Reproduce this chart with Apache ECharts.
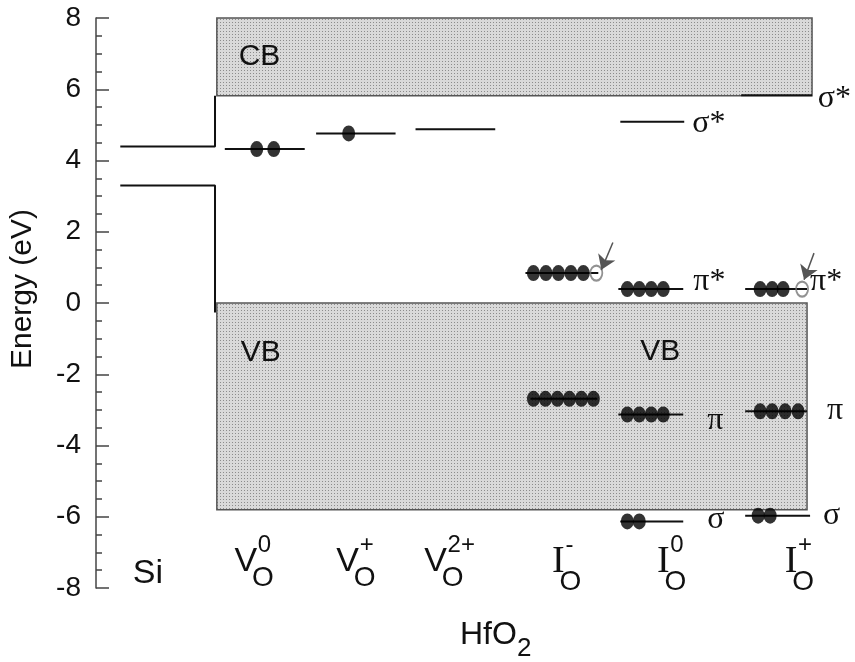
<!DOCTYPE html>
<html>
<head>
<meta charset="utf-8">
<script src="https://cdn.jsdelivr.net/npm/echarts@6/dist/echarts.min.js"></script>
<style>
  html, body { margin: 0; padding: 0; background: #fff; }
  #chart { width: 855px; height: 662px; }
</style>
</head>
<body>
<div id="chart"></div>
<script>
// Energy axis (eV)
const energyMin = -8;
const energyMax = 8;
const energyStep = 2;

// HfO2 bands: horizontal extent and energy range (top, bottom)
const bandNames = ['CB', 'VB'];
const bandLeft = [15.92, 15.92];
const bandRight = [94.34, 93.68];
const bandTop = [8.0, 0.0];
const bandBottom = [5.82, -5.80];

// Si band edges and the offsets to the HfO2 bands
const siCBLine = [[3.2, 4.39], [15.68, 4.39], [15.68, 5.82]];
const siVBLine = [[3.2, 3.30], [15.68, 3.30], [15.68, -0.27]];

// Defect levels: start, end, energy (eV)
const levelStart = [16.97, 29.00, 42.10, 56.58, 57.24, 68.82, 68.82, 69.08, 69.08, 85.53, 85.53, 85.53, 85.00];
const levelEnd   = [27.50, 39.47, 52.60, 66.18, 66.05, 77.37, 77.37, 77.37, 77.50, 93.68, 93.68, 94.08, 94.34];
const levelE     = [4.32, 4.76, 4.88, 0.84, -2.69, 0.39, -3.13, -6.13, 5.09, 0.39, -3.04, -5.97, 5.83];

// Occupied states (electrons)
const electronX = [21.18, 23.42, 33.29,
  57.63, 59.28, 60.92, 62.57, 64.21,
  57.63, 59.21, 60.79, 62.37, 63.95, 65.53,
  70.00, 71.58, 73.16, 74.74,
  70.00, 71.58, 73.16, 74.74,
  70.00, 71.58,
  87.50, 89.08, 90.53,
  87.50, 89.08, 90.79, 92.50,
  87.24, 88.82];
const electronE = [4.32, 4.32, 4.76,
  0.84, 0.84, 0.84, 0.84, 0.84,
  -2.69, -2.69, -2.69, -2.69, -2.69, -2.69,
  0.39, 0.39, 0.39, 0.39,
  -3.13, -3.13, -3.13, -3.13,
  -6.13, -6.13,
  0.39, 0.39, 0.39,
  -3.04, -3.04, -3.04, -3.04,
  -5.97, -5.97];

// Empty states (holes)
const holeX = [65.92, 93.03];
const holeE = [0.84, 0.39];

// Arrows pointing at the holes: from -> to
const arrowFrom = [[68.10, 1.70], [94.60, 1.40]];
const arrowTo = [[66.58, 0.93], [93.29, 0.65]];

// Orbital labels
const orbText = ['σ*', 'σ*', 'π*', 'π*', 'π', 'π', 'σ', 'σ'];
const orbX = [78.55, 95.10, 78.70, 94.08, 80.53, 96.32, 80.53, 95.79];
const orbE = [5.05, 5.74, 0.61, 0.61, -3.29, -3.03, -6.09, -5.98];

// Band labels
const bandLabelText = ['CB', 'VB', 'VB'];
const bandLabelX = [18.80, 19.08, 71.70];
const bandLabelE = [6.90, -1.40, -1.36];

// System labels along the bottom
const catBase = ['Si', 'V', 'V', 'V', 'I', 'I', 'I'];
const catSub = ['', 'O', 'O', 'O', 'O', 'O', 'O'];
const catSup = ['', '0', '+', '2+', '-', '0', '+'];
const catX = [6.84, 19.74, 33.16, 44.74, 60.92, 74.74, 91.58];
const catE = -7.25;

// Stipple fill used for the band areas
function stipplePattern() {
  const c = document.createElement('canvas');
  c.width = 3; c.height = 3;
  const ctx = c.getContext('2d');
  ctx.fillStyle = '#d9d9d9';
  ctx.fillRect(0, 0, 3, 3);
  ctx.fillStyle = '#8c8c8c';
  ctx.fillRect(1, 1, 1, 1);
  return c;
}

const SANS = '"Liberation Sans", Arial, sans-serif';
const SERIF = '"Liberation Serif", "Times New Roman", serif';

const chart = echarts.init(document.getElementById('chart'), null, { renderer: 'canvas' });

const option = {
  animation: false,
  backgroundColor: '#ffffff',
  grid: { left: 95, right: 0, top: 18, bottom: 74, containLabel: false },
  xAxis: { type: 'value', min: 0, max: 100, show: false },
  yAxis: {
    type: 'value',
    min: energyMin,
    max: energyMax,
    interval: energyStep,
    axisLine: { show: true, lineStyle: { color: '#444', width: 1.5 } },
    axisTick: { show: true, inside: true, length: 13, lineStyle: { color: '#444', width: 1.5 } },
    minorTick: { show: true, splitNumber: 4, length: 6, lineStyle: { color: '#444', width: 1.5 } },
    splitLine: { show: false },
    axisLabel: { fontSize: 28, color: '#111', margin: 15, fontFamily: SANS },
    name: 'Energy (eV)',
    nameLocation: 'middle',
    nameGap: 58,
    nameTextStyle: { fontSize: 30, color: '#111', fontFamily: SANS, padding: [0, 0, 0, 28] }
  },
  graphic: [
    { type: 'text', left: 460, top: 619, style: { text: 'HfO', font: '32px ' + SANS, fill: '#111' } },
    { type: 'text', left: 517, top: 636, style: { text: '2', font: '26px ' + SANS, fill: '#111' } }
  ],
  series: [
    {
      // HfO2 conduction and valence bands
      type: 'custom',
      silent: true,
      encode: { x: [0, 1], y: [2, 3] },
      data: bandNames.map((n, i) => [bandLeft[i], bandRight[i], bandTop[i], bandBottom[i]]),
      renderItem(params, api) {
        const a = api.coord([api.value(0), api.value(2)]);
        const b = api.coord([api.value(1), api.value(3)]);
        return {
          type: 'rect',
          shape: { x: a[0], y: a[1], width: b[0] - a[0], height: b[1] - a[1] },
          style: { fill: { image: stipplePattern(), repeat: 'repeat' }, stroke: '#555', lineWidth: 1.5 }
        };
      },
      z: 1
    },
    {
      type: 'line', data: siCBLine, symbol: 'none', silent: true,
      lineStyle: { color: '#111', width: 2 }, z: 3
    },
    {
      type: 'line', data: siVBLine, symbol: 'none', silent: true,
      lineStyle: { color: '#111', width: 2 }, z: 3
    },
    {
      // Defect levels
      type: 'custom',
      silent: true,
      encode: { x: [0, 1], y: 2 },
      data: levelStart.map((s, i) => [s, levelEnd[i], levelE[i]]),
      renderItem(params, api) {
        const a = api.coord([api.value(0), api.value(2)]);
        const b = api.coord([api.value(1), api.value(2)]);
        return {
          type: 'line',
          shape: { x1: a[0], y1: a[1], x2: b[0], y2: b[1] },
          style: { stroke: '#111', lineWidth: 2 }
        };
      },
      z: 3
    },
    {
      type: 'scatter', silent: true,
      data: electronX.map((x, i) => [x, electronE[i]]),
      symbol: 'circle', symbolSize: [13, 16],
      itemStyle: { color: '#000' }, z: 4
    },
    {
      type: 'scatter', silent: true,
      data: holeX.map((x, i) => [x, holeE[i]]),
      symbol: 'circle', symbolSize: [12, 15],
      itemStyle: { color: 'rgba(0,0,0,0)', borderColor: '#777', borderWidth: 2 }, z: 4
    },
    {
      type: 'lines', coordinateSystem: 'cartesian2d', silent: true,
      data: arrowFrom.map((f, i) => ({ coords: [f, arrowTo[i]] })),
      symbol: ['none', 'arrow'], symbolSize: [10, 14],
      lineStyle: { color: '#555', width: 1.5, opacity: 1 }, z: 5
    },
    {
      // Orbital character labels
      type: 'custom', silent: true, clip: false,
      encode: { x: 0, y: 1 },
      data: orbText.map((t, i) => [orbX[i], orbE[i]]),
      renderItem(params, api) {
        const p = api.coord([api.value(0), api.value(1)]);
        return {
          type: 'text', x: p[0], y: p[1],
          style: { text: orbText[params.dataIndex], font: '32px ' + SERIF, fill: '#111', align: 'left', verticalAlign: 'middle' }
        };
      },
      z: 6
    },
    {
      // Band labels
      type: 'custom', silent: true, clip: false,
      encode: { x: 0, y: 1 },
      data: bandLabelText.map((t, i) => [bandLabelX[i], bandLabelE[i]]),
      renderItem(params, api) {
        const p = api.coord([api.value(0), api.value(1)]);
        return {
          type: 'text', x: p[0], y: p[1],
          style: { text: bandLabelText[params.dataIndex], font: '30px ' + SANS, fill: '#111', align: 'left', verticalAlign: 'middle' }
        };
      },
      z: 6
    },
    {
      // System labels: Si and the oxygen vacancy / interstitial states
      type: 'custom', silent: true, clip: false,
      encode: { x: 0, y: 1 },
      data: catX.map((x) => [x, catE]),
      renderItem(params, api) {
        const i = params.dataIndex;
        const p = api.coord([api.value(0), api.value(1)]);
        const isI = catBase[i] === 'I';
        const isSi = catBase[i] === 'Si';
        const children = [{
          type: 'text', x: p[0], y: p[1] + (isSi ? 12 : (isI ? 1 : 0)),
          style: { text: catBase[i], font: isI ? '38px ' + SERIF : '34px ' + SANS, fill: '#111', align: 'center', verticalAlign: 'middle' }
        }];
        if (catSub[i]) {
          children.push({
            type: 'text', x: p[0] + (isI ? 12 : 17), y: p[1] + (isI ? 21 : 17),
            style: { text: catSub[i], font: '28px ' + SANS, fill: '#111', align: 'center', verticalAlign: 'middle' }
          });
        }
        if (catSup[i]) {
          children.push({
            type: 'text', x: p[0] + (isI ? 7 : 12), y: p[1] + (isI ? -16 : -16),
            style: { text: catSup[i], font: '24px ' + SANS, fill: '#111', align: 'left', verticalAlign: 'middle' }
          });
        }
        return { type: 'group', children };
      },
      z: 6
    }
  ]
};

chart.setOption(option);
</script>
</body>
</html>
